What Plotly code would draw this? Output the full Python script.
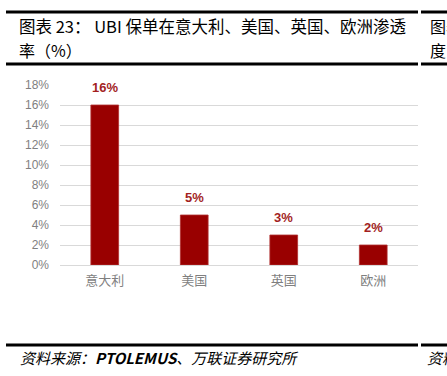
import plotly.graph_objects as go

categories = ["意大利", "美国", "英国", "欧洲"]
values = [16, 5, 3, 2]
value_labels = ["16%", "5%", "3%", "2%"]
y_ticks = [0, 2, 4, 6, 8, 10, 12, 14, 16, 18]
y_tick_labels = ["0%", "2%", "4%", "6%", "8%", "10%", "12%", "14%", "16%", "18%"]

W, H = 447, 376
L, R, T, B = 60, 29, 85, 111
PW = W - L - R
PH = H - T - B

def px(x):
    return (x - L) / PW

def py(y):
    return (H - B - y) / PH

CJK = "Noto Sans CJK SC"

fig = go.Figure()
fig.add_trace(go.Bar(
    x=categories, y=values, width=0.31,
    marker=dict(color="#990000", line=dict(color="#B03030", width=0.8)),
    hoverinfo="skip",
))

for c, v, t in zip(categories, values, value_labels):
    fig.add_annotation(x=c, y=v, text="<b>%s</b>" % t, showarrow=False,
                       yanchor="bottom", yshift=8,
                       font=dict(family="Liberation Sans, Arial", size=13, color="#A31F1F"))

fig.update_layout(
    width=W, height=H,
    margin=dict(l=L, r=R, t=T, b=B),
    paper_bgcolor="white", plot_bgcolor="white",
    showlegend=False,
    hovermode=False,
    xaxis=dict(showgrid=False, showline=False, ticks="",
               tickfont=dict(family=CJK, size=13, color="#7f7f7f"),
               ticklabelstandoff=6),
    yaxis=dict(range=[0, 18], tickmode="array", tickvals=y_ticks, ticktext=y_tick_labels,
               showgrid=True, gridcolor="#d9d9d9", gridwidth=1,
               zeroline=True, zerolinecolor="#d9d9d9", zerolinewidth=1,
               showline=False, ticks="",
               tickfont=dict(family="Liberation Sans, Arial", size=12, color="#7f7f7f"),
               ticklabelstandoff=10),
)

# Frame lines
lines = [
    (6, 418, 12, 3), (421, 447, 12, 3),
    (6, 418, 64, 3), (421, 447, 64, 3),
    (6, 418, 345, 3), (421, 447, 345, 3),
]
for x0, x1, yy, w in lines:
    fig.add_shape(type="line", xref="paper", yref="paper",
                  x0=px(x0), x1=px(x1), y0=py(yy), y1=py(yy),
                  line=dict(color="black", width=w))

fig.add_annotation(xref="paper", yref="paper", x=px(17), y=py(26),
                   xanchor="left", yanchor="middle", showarrow=False,
                   text="图表 23： UBI 保单在意大利、美国、英国、欧洲渗透",
                   font=dict(family=CJK, size=16.5, color="black"))
fig.add_annotation(xref="paper", yref="paper", x=px(17), y=py(50),
                   xanchor="left", yanchor="middle", showarrow=False,
                   text="率（%）",
                   font=dict(family=CJK, size=16, color="black"))
fig.add_annotation(xref="paper", yref="paper", x=px(428), y=py(26),
                   xanchor="left", yanchor="middle", showarrow=False,
                   text="图表", font=dict(family=CJK, size=16, color="black"))
fig.add_annotation(xref="paper", yref="paper", x=px(428), y=py(50),
                   xanchor="left", yanchor="middle", showarrow=False,
                   text="度", font=dict(family=CJK, size=16, color="black"))
fig.add_annotation(xref="paper", yref="paper", x=px(18), y=py(357),
                   xanchor="left", yanchor="middle", showarrow=False,
                   text="<i>资料来源：<b>PTOLEMUS</b>、万联证券研究所</i>",
                   font=dict(family=CJK, size=15, color="black"))
fig.add_annotation(xref="paper", yref="paper", x=px(425), y=py(357),
                   xanchor="left", yanchor="middle", showarrow=False,
                   text="<i>资料</i>", font=dict(family=CJK, size=15, color="black"))

fig.write_html("out.html", config={"displayModeBar": False, "staticPlot": True},
               post_script="document.body.style.margin='0';document.body.style.padding='0';document.body.style.overflow='hidden';")
